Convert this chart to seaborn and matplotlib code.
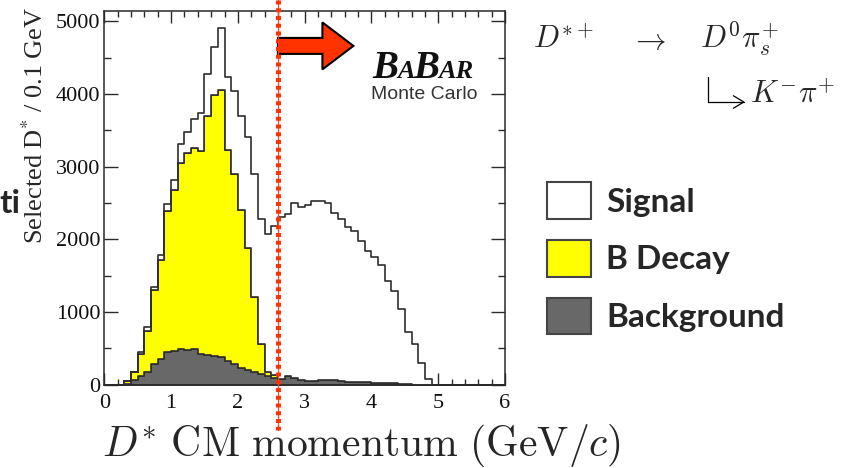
import numpy as np
import pandas as pd
import matplotlib
matplotlib.use("Agg")
import matplotlib.pyplot as plt
import matplotlib.transforms as mtransforms
from matplotlib.patches import Patch, FancyArrow, FancyArrowPatch
from matplotlib.path import Path
from matplotlib.font_manager import FontProperties
import seaborn as sns

# D* CM momentum, 0.1 GeV bins from 0 to 6 GeV/c
p_range = (0.0, 6.0)
n_bins = 60

signal = [0, 0, 0, 0, 8, 15, 46, 46, 73, 93,
          145, 257, 280, 403, 516, 588, 666, 856, 998, 1138,
          1294, 1533, 1697, 1719, 1892, 2056, 2226, 2232, 2400, 2384,
          2416, 2471, 2462, 2430, 2297, 2224, 2121, 2072, 1939, 1802,
          1732, 1622, 1402, 1272, 1023, 722, 554, 296, 75, 0,
          0, 0, 0, 0, 0, 0, 0, 0, 0, 0]
b_decay = [0, 0, 0, 40, 110, 304, 569, 1018, 1353, 1941,
           2203, 2563, 2715, 2761, 2792, 3282, 3586, 3670, 2898, 2619,
           2179, 1676, 1028, 417, 59, 35, 0, 0, 0, 0,
           0, 0, 0, 0, 0, 0, 0, 0, 0, 0,
           0, 0, 0, 0, 0, 0, 0, 0, 0, 0,
           0, 0, 0, 0, 0, 0, 0, 0, 0, 0]
background = [0, 0, 0, 8, 62, 126, 176, 286, 359, 451,
              469, 492, 478, 492, 426, 410, 396, 378, 332, 286,
              227, 204, 180, 149, 121, 95, 78, 115, 96, 66,
              57, 57, 66, 66, 62, 57, 45, 43, 39, 38,
              30, 30, 28, 22, 15, 8, 3, 0, 0, 0,
              0, 0, 0, 0, 0, 0, 0, 0, 0, 0]

components = ["Signal", "B Decay", "Background"]
colors = {"Signal": "#ffffff", "B Decay": "#ffff00", "Background": "#686868"}
momentum_cut = 2.6

x_ticks = [0, 1, 2, 3, 4, 5, 6]
y_ticks = [0, 1000, 2000, 3000, 4000, 5000]

edges = np.linspace(p_range[0], p_range[1], n_bins + 1)
centers = (edges[:-1] + edges[1:]) / 2
df = pd.DataFrame({
    "p": np.tile(centers, 3),
    "n": np.concatenate([signal, b_decay, background]).astype(float),
    "component": np.repeat(components, len(centers)),
})

sns.set_style("ticks")
plt.rcParams["font.family"] = ["Liberation Serif", "DejaVu Serif"]

W, H = 866, 468
fig = plt.figure(figsize=(W / 100, H / 100), dpi=100)
fig.patch.set_facecolor("white")


def fx(px):
    return px / W


def fy(py):
    return 1 - py / H


ax = fig.add_axes([fx(104.3), fy(384.8), (505 - 104.3) / W, (384.8 - 11) / H])

sns.histplot(data=df, x="p", weights="n", hue="component", hue_order=components,
             multiple="stack", element="step", fill=True, bins=n_bins,
             binrange=p_range, palette=colors, alpha=1, edgecolor="#2e2e2e",
             linewidth=1.2, legend=False, ax=ax)

ax.set_xlim(0, 6)
ax.set_ylim(0, 5140)
ax.set_xticks(x_ticks)
ax.set_yticks(y_ticks)
ax.set_xticks(np.arange(0, 6.01, 0.2), minor=True)
ax.set_yticks(np.arange(0, 5100, 500), minor=True)
ax.set_xlabel("")
ax.set_ylabel("")
for s in ax.spines.values():
    s.set_visible(True)
    s.set_color("#2a2a2a")
    s.set_linewidth(1.1)
ax.tick_params(which="both", direction="in", top=True, right=True,
               color="#2a2a2a", width=1.0, labelsize=16, labelcolor="#111111")
ax.tick_params(axis="x", which="major", length=8.6, pad=6.5)
ax.tick_params(axis="x", which="minor", length=4.3)
ax.tick_params(axis="y", which="major", length=10, pad=3)
ax.tick_params(axis="y", which="minor", length=5)

# cut arrow
arrow = FancyArrow(momentum_cut, 4660, 1.13, 0, width=220, head_width=646,
                   head_length=0.464, length_includes_head=True,
                   facecolor="#ff3300", edgecolor="black", linewidth=1.5,
                   zorder=5, clip_on=False)
ax.add_patch(arrow)

# cut line spanning the whole height
blend = mtransforms.blended_transform_factory(ax.transData, fig.transFigure)
ax.plot([momentum_cut, momentum_cut], [1.0, fy(430)], transform=blend,
        color="#ff4433", lw=0.9, clip_on=False, zorder=6)
ax.plot([momentum_cut, momentum_cut], [1.0, fy(430)], transform=blend,
        color="#ff3300", lw=3.6, ls=(0, (0.8, 0.75)), dash_capstyle="butt",
        clip_on=False, zorder=6)

# axis titles
fig.text(fx(362), fy(456), r"$D^{*}\ \mathrm{CM\ momentum\ (GeV}/c\mathrm{)}$",
         fontsize=30, math_fontfamily="cm", ha="center", va="baseline")
fig.text(fx(35), fy(125), r"Selected D$^{*}$ / 0.1 GeV", fontsize=19,
         math_fontfamily="stix", rotation=90, ha="center", va="center")

# experiment tag
fig.canvas.draw()
renderer = fig.canvas.get_renderer()
xpos = 372
for chars, size in [("B", 28), ("A", 19), ("B", 28), ("AR", 19)]:
    t = fig.text(fx(xpos), fy(78), chars, fontsize=size, fontweight="bold",
                 fontstyle="italic", family="Liberation Serif",
                 ha="left", va="baseline", color="#111111")
    bb = t.get_window_extent(renderer=renderer)
    xpos = bb.x1 - 1
fig.text(fx(424), fy(99), "Monte Carlo", fontsize=14, family="Liberation Sans",
         ha="center", va="baseline", color="#333333")

# decay chain
fig.text(fx(533), fy(48), r"$D^{*+}$", fontsize=22, math_fontfamily="cm",
         ha="left", va="baseline")
fig.text(fx(648), fy(49), r"$\rightarrow$", fontsize=22, math_fontfamily="cm",
         ha="center", va="baseline")
fig.text(fx(700), fy(48), r"$D^{0}\pi_{s}^{+}$", fontsize=22, math_fontfamily="cm",
         ha="left", va="baseline")
fig.text(fx(750), fy(103), r"$K^{-}\pi^{+}$", fontsize=22, math_fontfamily="cm",
         ha="left", va="baseline")
hook = Path([(fx(708), fy(77)), (fx(708), fy(102)), (fx(745), fy(102))],
            [Path.MOVETO, Path.LINETO, Path.LINETO])
fig.add_artist(FancyArrowPatch(path=hook, arrowstyle="->,head_length=0.5,head_width=0.3",
                               mutation_scale=15, lw=0.9, color="black",
                               transform=fig.transFigure))

# legend
handles = [Patch(facecolor=colors[c], edgecolor="#444444", linewidth=1.5)
           for c in components]
fig.legend(handles, components, loc="upper left",
           bbox_to_anchor=(fx(547), fy(182)), frameon=False, borderpad=0,
           borderaxespad=0, handlelength=1.32, handleheight=1.32,
           handletextpad=0.45, labelspacing=0.63,
           prop=FontProperties(family="Lato", weight="bold", size=24))

# clipped slide text at the left margin
fig.text(fx(-1), fy(213), "ti", fontsize=24, fontweight="bold", family="Lato",
         ha="left", va="baseline")

fig.savefig("out.png", dpi=100, facecolor="white")
